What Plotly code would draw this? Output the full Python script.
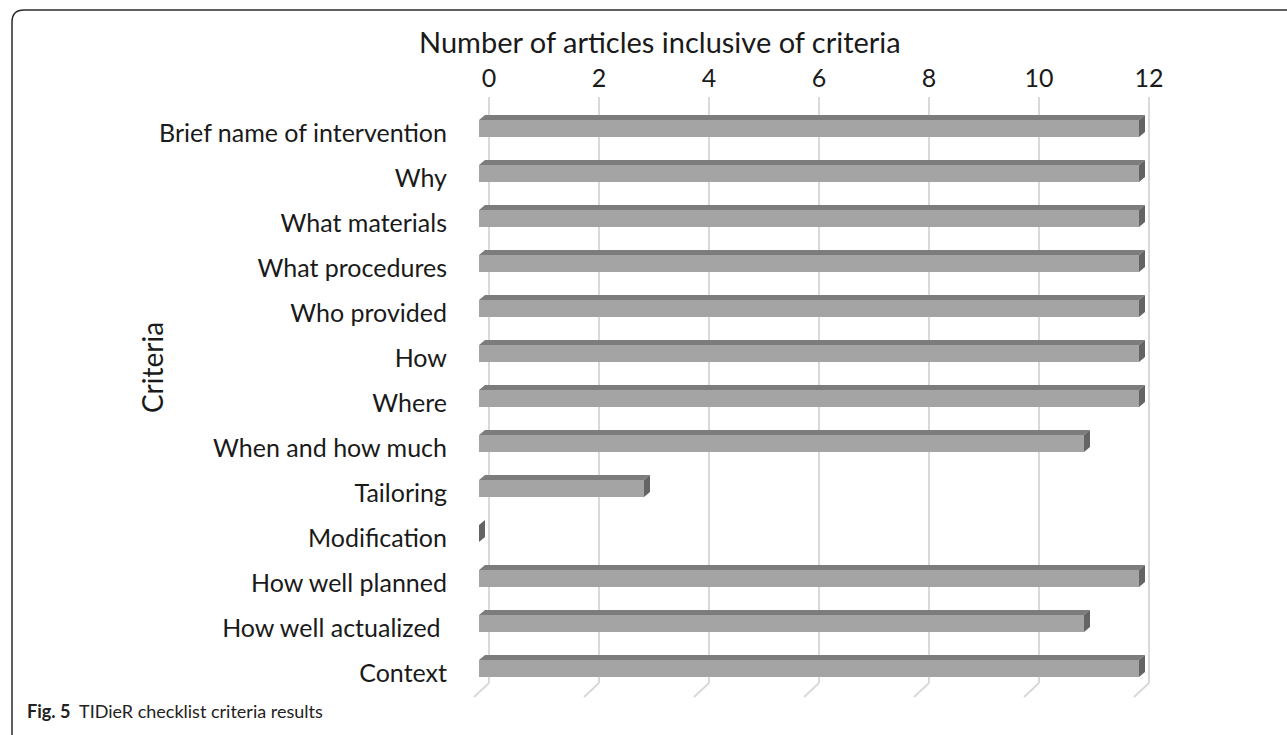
import plotly.graph_objects as go

# TIDieR checklist items and number of articles reporting each one
criteria = [
    "Brief name of intervention", "Why", "What materials", "What procedures",
    "Who provided", "How", "Where", "When and how much", "Tailoring",
    "Modification", "How well planned", "How well actualized ", "Context",
]
articles = [12, 12, 12, 12, 12, 12, 12, 11, 3, 0, 12, 11, 12]
axis_ticks = [0, 2, 4, 6, 8, 10, 12]

W, H = 1287, 735
# plot-area box in pixels
L, R, T, B = 465, 1165, 95, 700
PX_PER_UNIT = 55.0
ROW_PX = 45.0
BAR_ORIGIN_PX = 479      # front face of the bars starts here
GRID_ORIGIN_PX = 489     # back wall (gridlines / tick labels)
FIRST_ROW_PX = 128.5

def px_to_paper_x(px):
    return (px - L) / (R - L)

def px_to_paper_y(py):
    return (B - py) / (B - T)

bar_w = 17 / ROW_PX                 # thickness of the front face
dx = 6 / PX_PER_UNIT                # 3-D depth offset (right)
dy = 5 / ROW_PX                     # 3-D depth offset (up)

FRONT = "#a4a4a4"
TOP = "#7c7c7c"
SIDE = "#646464"
GRID = "#d9d9d9"
TEXT = "#1a1a1a"

rows = list(range(len(criteria)))

fig = go.Figure()

# front faces
fig.add_trace(go.Bar(
    x=articles, y=rows, orientation="h", width=bar_w,
    marker=dict(color=FRONT, line=dict(width=0)),
    xaxis="x", yaxis="y", hoverinfo="x+text",
    hovertext=criteria, showlegend=False,
))

# top and side faces of each 3-D bar
top_x, top_y, side_x, side_y = [], [], [], []
for i, v in zip(rows, articles):
    y_top = i - bar_w / 2
    y_bot = i + bar_w / 2
    top_x += [0, v, v + dx, dx, 0, None]
    top_y += [y_top, y_top, y_top - dy, y_top - dy, y_top, None]
    side_x += [v, v, v + dx, v + dx, v, None]
    side_y += [y_top, y_bot, y_bot - dy, y_top - dy, y_top, None]

fig.add_trace(go.Scatter(
    x=top_x, y=top_y, mode="lines", fill="toself", fillcolor=TOP,
    line=dict(width=0, color=TOP), hoverinfo="skip", showlegend=False,
    xaxis="x", yaxis="y",
))
fig.add_trace(go.Scatter(
    x=side_x, y=side_y, mode="lines", fill="toself", fillcolor=SIDE,
    line=dict(width=0, color=SIDE), hoverinfo="skip", showlegend=False,
    xaxis="x", yaxis="y",
))

shapes = []
# gridlines on the back wall, bending onto the floor at the bottom
grid_top = px_to_paper_y(97)
grid_floor = px_to_paper_y(683)
floor_front = px_to_paper_y(697)
for t in axis_ticks:
    shapes.append(dict(type="line", xref="x2", yref="paper",
                       x0=t, x1=t, y0=grid_top, y1=grid_floor,
                       line=dict(color=GRID, width=2), layer="below"))
    shapes.append(dict(type="line", xref="x2", yref="paper",
                       x0=t, x1=t - 15 / PX_PER_UNIT, y0=grid_floor, y1=floor_front,
                       line=dict(color=GRID, width=2), layer="below"))

# figure frame with rounded top-left corner
fx0, fy0 = px_to_paper_x(12), px_to_paper_y(10)
fr_x, fr_y = px_to_paper_x(24), px_to_paper_y(22)
path = (f"M {fx0},{px_to_paper_y(760)} L {fx0},{fr_y} "
        f"Q {fx0},{fy0} {fr_x},{fy0} L {px_to_paper_x(1300)},{fy0}")
shapes.append(dict(type="path", xref="paper", yref="paper", path=path,
                   line=dict(color="#2b2b2b", width=1.5)))

annotations = [
    dict(text="Number of articles inclusive of criteria", xref="paper", yref="paper",
         x=px_to_paper_x(660), y=px_to_paper_y(41), xanchor="center", yanchor="middle",
         showarrow=False, font=dict(family="Lato", size=29, color=TEXT)),
    dict(text="Criteria", xref="paper", yref="paper",
         x=px_to_paper_x(152), y=px_to_paper_y(368), xanchor="center", yanchor="middle",
         textangle=-90, showarrow=False, font=dict(family="Lato", size=28, color=TEXT)),
    dict(text="<b>Fig. 5</b>  TIDieR checklist criteria results", xref="paper", yref="paper",
         x=px_to_paper_x(25), y=px_to_paper_y(711), xanchor="left", yanchor="middle",
         showarrow=False, font=dict(family="Lato", size=18, color="#222222")),
]

fig.update_layout(
    width=W, height=H,
    margin=dict(l=L, r=W - R, t=T, b=H - B, pad=0),
    paper_bgcolor="white", plot_bgcolor="white",
    bargap=0,
    xaxis=dict(
        range=[(L - BAR_ORIGIN_PX) / PX_PER_UNIT, (R - BAR_ORIGIN_PX) / PX_PER_UNIT],
        showgrid=False, zeroline=False, showticklabels=False, showline=False,
        fixedrange=True,
    ),
    xaxis2=dict(
        overlaying="x", side="top",
        range=[(L - GRID_ORIGIN_PX) / PX_PER_UNIT, (R - GRID_ORIGIN_PX) / PX_PER_UNIT],
        tickvals=axis_ticks, ticktext=[str(t) for t in axis_ticks],
        showgrid=False, zeroline=False, showline=False, ticks="",
        tickfont=dict(family="Lato", size=25, color=TEXT),
        ticklabelstandoff=2, fixedrange=True,
    ),
    yaxis=dict(
        range=[(B - FIRST_ROW_PX) / ROW_PX, (T - FIRST_ROW_PX) / ROW_PX],
        tickvals=[i + 0.1 for i in rows], ticktext=criteria,
        showgrid=False, zeroline=False, showline=False, ticks="",
        tickfont=dict(family="Lato", size=25, color=TEXT),
        ticklabelstandoff=17, fixedrange=True,
    ),
    shapes=shapes,
    annotations=annotations,
)

# empty trace so the top axis is drawn
fig.add_trace(go.Scatter(x=[None], y=[None], xaxis="x2", yaxis="y",
                         showlegend=False, hoverinfo="skip"))

fig.write_html("out.html")
